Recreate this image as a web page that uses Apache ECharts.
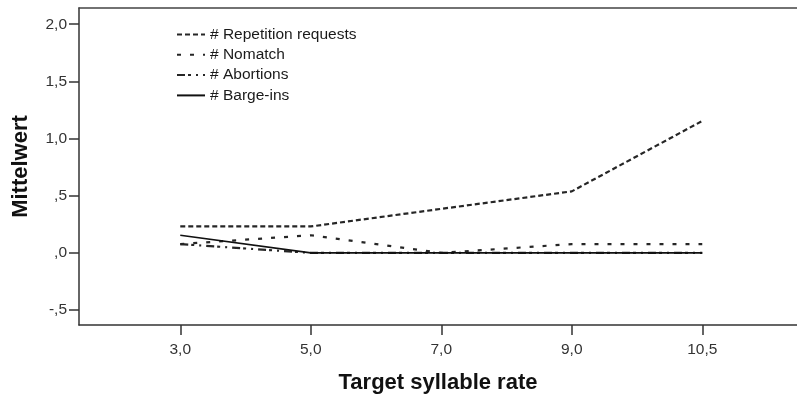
<!DOCTYPE html>
<html>
<head>
<meta charset="utf-8">
<script src="https://cdn.jsdelivr.net/npm/echarts@6/dist/echarts.min.js"></script>
<style>html,body{margin:0;padding:0;background:#fff}#c{width:797px;height:399px}</style>
</head>
<body>
<div id="c"></div>
<script>
var categories = ['3,0', '5,0', '7,0', '9,0', '10,5'];
var repetitionRequests = [0.231, 0.231, 0.385, 0.538, 1.154];
var nomatch = [0.077, 0.154, 0.0, 0.077, 0.077];
var abortions = [0.077, 0.0, 0.0, 0.0, 0.0];
var bargeIns = [0.154, 0.0, 0.0, 0.0, 0.0];
var yTicks = [-0.5, 0, 0.5, 1.0, 1.5, 2.0];
var seriesNames = ['# Repetition requests', '# Nomatch', '# Abortions', '# Barge-ins'];

function toPairs(arr) { return arr.map(function (v, i) { return [i, v]; }); }
function fmtY(v) {
  var s = Math.abs(v).toFixed(1).replace('.', ',');
  if (s.charAt(0) === '0') s = s.slice(1);
  return (v < 0 ? '-' : '') + s;
}
var font = 'Liberation Sans, Arial, sans-serif';
var chart = echarts.init(document.getElementById('c'), null, { renderer: 'canvas' });
var xIdx = categories.map(function (c, i) { return i; });
var xMin = -0.776, xMax = 4.726;
chart.setOption({
  animation: false,
  backgroundColor: '#fff',
  grid: { left: 79, top: 8, bottom: 73, right: 0 },
  legend: {
    orient: 'vertical', left: 176, top: 26.5, padding: 0,
    itemWidth: 28, itemHeight: 14, itemGap: 4.3,
    itemStyle: { opacity: 0 },
    textStyle: { fontFamily: font, fontSize: 15.5, color: '#1a1a1a', lineHeight: 16 },
    data: seriesNames
  },
  xAxis: [{
    type: 'value', min: xMin, max: xMax,
    name: 'Target syllable rate', nameLocation: 'middle', nameGap: 47,
    nameTextStyle: { fontFamily: font, fontSize: 22, fontWeight: 'bold', color: '#111' },
    axisLine: { show: true, onZero: false, lineStyle: { color: '#333', width: 1.5 } },
    axisTick: { show: true, length: 10, customValues: xIdx, lineStyle: { color: '#333', width: 1.5 } },
    axisLabel: { customValues: xIdx, margin: 17, fontFamily: font, fontSize: 15.5, color: '#333',
      formatter: function (v) { return categories[Math.round(v)]; } },
    splitLine: { show: false }
  }, {
    type: 'value', min: xMin, max: xMax, position: 'top',
    axisLine: { show: true, onZero: false, lineStyle: { color: '#444', width: 1.5 } },
    axisTick: { show: false }, axisLabel: { show: false }, splitLine: { show: false }
  }],
  yAxis: {
    type: 'value', min: -0.631, max: 2.142,
    name: 'Mittelwert', nameLocation: 'middle', nameGap: 47,
    nameTextStyle: { fontFamily: font, fontSize: 22, fontWeight: 'bold', color: '#111' },
    axisLine: { show: true, onZero: false, lineStyle: { color: '#333', width: 1.5 } },
    axisTick: { show: true, length: 10, customValues: yTicks, lineStyle: { color: '#333', width: 1.5 } },
    axisLabel: { customValues: yTicks, margin: 12, fontFamily: font, fontSize: 15.5, color: '#333', formatter: fmtY },
    splitLine: { show: false }
  },
  series: [
    { name: seriesNames[0], type: 'line', symbol: 'none', data: toPairs(repetitionRequests),
      lineStyle: { color: '#262626', width: 2.2, type: [5, 3] }, itemStyle: { color: '#262626' } },
    { name: seriesNames[1], type: 'line', symbol: 'none', data: toPairs(nomatch),
      lineStyle: { color: '#262626', width: 2.2, type: [4, 9] }, itemStyle: { color: '#262626' } },
    { name: seriesNames[2], type: 'line', symbol: 'none', data: toPairs(abortions),
      lineStyle: { color: '#262626', width: 2.2, type: [8, 3, 3, 5, 2, 5] }, itemStyle: { color: '#262626' } },
    { name: seriesNames[3], type: 'line', symbol: 'none', data: toPairs(bargeIns),
      lineStyle: { color: '#111', width: 1.7, type: 'solid' }, itemStyle: { color: '#111' } }
  ]
});
</script>
</body>
</html>
